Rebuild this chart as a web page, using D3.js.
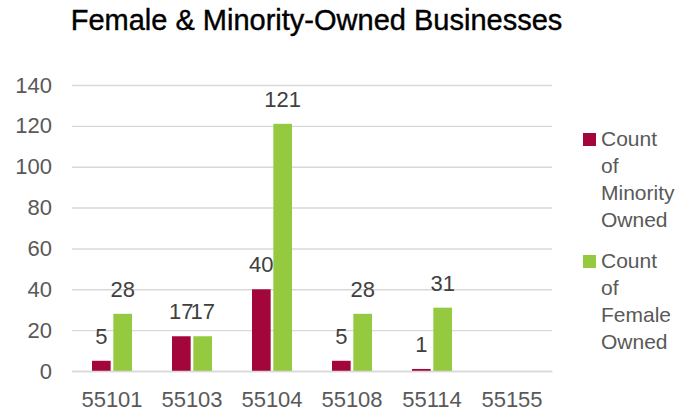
<!DOCTYPE html>
<html>
<head>
<meta charset="utf-8">
<script src="https://cdn.jsdelivr.net/npm/d3@7/dist/d3.min.js"></script>
<style>
  html, body { margin: 0; padding: 0; background: #fff; }
  svg { display: block; }
  text { font-family: "Liberation Sans", Arial, sans-serif; }
</style>
</head>
<body>
<svg id="chart" width="700" height="413"></svg>
<script>
// Business counts by ZIP code
const zipCodes = ["55101", "55103", "55104", "55108", "55114", "55155"];
const minorityOwned = [5, 17, 40, 5, 1, null];
const femaleOwned = [28, 17, 121, 28, 31, null];
const yTicks = [0, 20, 40, 60, 80, 100, 120, 140];
const seriesNames = ["Count of Minority Owned", "Count of Female Owned"];
const seriesColors = ["#A3063B", "#94C940"];

const svg = d3.select("#chart");
const margin = { left: 72, right: 148, top: 85, bottom: 42 };
const width = 700, height = 413;
const plotW = width - margin.left - margin.right;
const plotH = height - margin.top - margin.bottom;

const rows = zipCodes.map((z, i) => ({ zip: z, values: [minorityOwned[i], femaleOwned[i]] }));

const x = d3.scaleBand().domain(zipCodes).range([0, plotW]).paddingInner(0).paddingOuter(0);
const xInner = d3.scaleBand().domain([0, 1]).range([20, x.bandwidth() - 20]).paddingInner(0.125);
const y = d3.scaleLinear().domain([0, 140]).range([plotH, 0]);

const g = svg.append("g").attr("transform", `translate(${margin.left},${margin.top})`);

// Title
svg.append("text")
  .attr("x", 316.5).attr("y", 30)
  .attr("text-anchor", "middle")
  .attr("font-size", 29)
  .attr("fill", "#000")
  .attr("stroke", "#000").attr("stroke-width", 0.4)
  .text("Female & Minority-Owned Businesses");

// Gridlines and y labels
const yAxis = d3.axisLeft(y).tickValues(yTicks).tickSize(-plotW).tickPadding(20);
const yg = g.append("g").call(yAxis);
yg.select(".domain").remove();
yg.selectAll(".tick line").attr("stroke", "#d9d9d9").attr("stroke-width", 1.4);
yg.selectAll(".tick text")
  .attr("font-size", 22).attr("fill", "#595959")
  .attr("font-family", "Liberation Sans, Arial, sans-serif");

// Bars
const groups = g.selectAll(".grp").data(rows).join("g")
  .attr("class", "grp")
  .attr("transform", d => `translate(${x(d.zip)},0)`);

groups.selectAll("rect")
  .data(d => d.values.map((v, i) => ({ v, i })).filter(e => e.v != null))
  .join("rect")
  .attr("x", e => xInner(e.i))
  .attr("width", xInner.bandwidth())
  .attr("y", e => y(e.v))
  .attr("height", e => y(0) - y(e.v))
  .attr("fill", e => seriesColors[e.i]);

groups.selectAll("text.lbl")
  .data(d => d.values.map((v, i) => ({ v, i })).filter(e => e.v != null))
  .join("text")
  .attr("class", "lbl")
  .attr("x", e => xInner(e.i) + xInner.bandwidth() / 2)
  .attr("y", e => y(e.v) - 17)
  .attr("text-anchor", "middle")
  .attr("font-size", 22)
  .attr("fill", "#404040")
  .text(e => e.v);

// X axis
const xAxis = d3.axisBottom(x).tickSize(0).tickPadding(20);
const xg = g.append("g").attr("transform", `translate(0,${plotH})`).call(xAxis);
xg.select(".domain").attr("stroke", "#d9d9d9").attr("stroke-width", 1.4);
xg.selectAll(".tick text")
  .attr("font-size", 22).attr("fill", "#595959")
  .attr("font-family", "Liberation Sans, Arial, sans-serif");

// Legend
const legendLines = [["Count", "of", "Minority", "Owned"], ["Count", "of", "Female", "Owned"]];
const lg = svg.append("g").attr("transform", "translate(583,0)");
legendLines.forEach((lines, i) => {
  const top = 146 + i * 122;
  lg.append("rect")
    .attr("x", 0).attr("y", top - 13)
    .attr("width", 13).attr("height", 13)
    .attr("fill", seriesColors[i]);
  lg.append("text")
    .attr("x", 18).attr("y", top)
    .attr("font-size", 21).attr("fill", "#595959")
    .selectAll("tspan").data(lines).join("tspan")
    .attr("x", 18).attr("dy", (d, k) => k === 0 ? 0 : 27)
    .text(d => d);
});
</script>
</body>
</html>
